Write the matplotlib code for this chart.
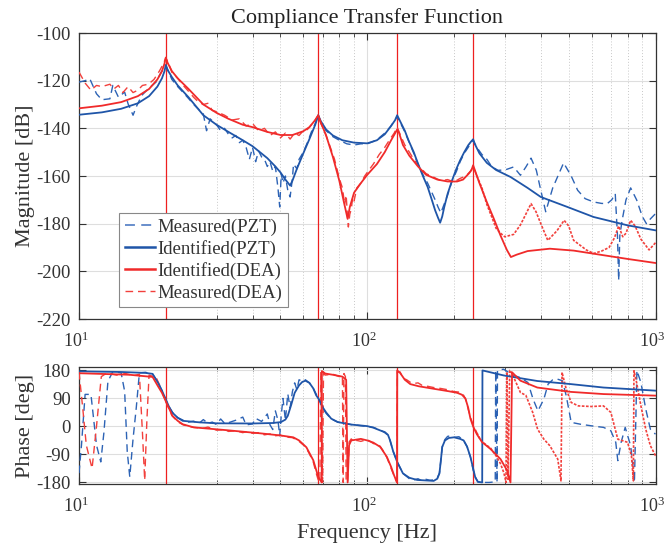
import math
import matplotlib
matplotlib.use("Agg")
import matplotlib.pyplot as plt
import matplotlib.transforms as mtransforms
from matplotlib.lines import Line2D
from matplotlib.ticker import LogLocator, FixedLocator, NullFormatter, FuncFormatter

plt.rcParams['font.family'] = ['Liberation Serif', 'DejaVu Serif']
plt.rcParams['mathtext.fontset'] = 'custom'
plt.rcParams['mathtext.rm'] = 'Liberation Serif'
plt.rcParams['mathtext.it'] = 'Liberation Serif:italic'
plt.rcParams['axes.unicode_minus'] = False

# ---------------- data ----------------
title_text = "Compliance Transfer Function"
mag_label = "Magnitude [dB]"
phase_label = "Phase [deg]"
freq_label = "Frequency [Hz]"
legend_labels = ["Measured(PZT)", "Identified(PZT)", "Identified(DEA)", "Measured(DEA)"]

mode_freqs = [20, 67.6, 127, 233]

# Identified (PZT) magnitude
f_id_pzt_mag = [10, 12, 14, 16, 17.5, 18.7, 19.4, 19.8, 20, 20.3,
                21, 22, 24, 27, 30, 33, 37, 40, 45, 48,
                50, 52, 54, 55, 57, 60, 63, 66, 67.6, 69,
                72, 76, 82, 90, 100, 108, 115, 121, 125, 127,
                130, 135, 139, 145, 150, 156, 162, 167, 172, 176,
                179, 182, 185, 190, 197, 203, 210, 217, 224, 229,
                233, 236, 245, 260, 280, 314, 360, 400, 495, 610,
                800, 1000]
m_id_pzt = [-134.3, -133.3, -131.8, -129.5, -126.5, -122.5, -119, -116, -113.4, -115.5,
            -118.5, -122, -127, -134.5, -138.5, -141.5, -145, -147.5, -152.5, -156,
            -158.5, -161.5, -164, -162, -157, -150.5, -144.5, -138.5, -134.5, -137,
            -140.5, -143, -145, -146, -146.3, -145, -142.5, -139, -136.5, -134.5,
            -137, -141, -145, -150, -154.8, -160, -164.6, -169.5, -174.4, -177.5,
            -179.6, -177, -173, -167.5, -161.8, -157.5, -153.4, -150, -147.1, -145.6,
            -144.6, -146.5, -150.5, -154.5, -157.5, -160.4, -165, -168.8, -173, -177.2,
            -180.7, -182.8]

# Identified (DEA) magnitude
f_id_dea_mag = [10, 12, 14, 16, 17.5, 18.7, 19.4, 19.8, 20, 20.3,
                21, 22, 24, 27, 30, 33, 37, 40, 45, 50,
                55, 60, 63, 66, 67.6, 69, 72, 76, 80, 83,
                85.5, 87, 90, 95, 100, 108, 115, 121, 125, 127,
                129, 133, 140, 150, 160, 175, 190, 205, 215, 225,
                230, 233, 237, 245, 260, 275, 290, 305, 315, 330,
                360, 430, 520, 610, 800, 1000]
m_id_dea = [-131.6, -130.5, -129, -126.5, -123.5, -119.5, -116, -112.8, -110.3, -112.5,
            -116, -119, -123.5, -130, -133.5, -136, -138.5, -139.5, -141.5, -142.8,
            -142.8, -141.2, -139.5, -136.5, -134.5, -137.5, -143, -152, -162, -171,
            -178, -173, -167, -163, -159.5, -155, -150, -145, -142, -140.5,
            -142, -147, -151.5, -156, -159.5, -161.5, -162.3, -162.3, -161.5, -159,
            -157.5, -155.5, -158, -163, -171, -178, -185, -191, -194, -193,
            -191.5, -190.5, -191.3, -192.6, -194.8, -196.5]

# Measured (PZT) magnitude
f_ms_pzt_mag = [10, 10.5, 10.9, 11.5, 12, 12.8, 13.1, 13.7, 14.4, 14.8,
                15.4, 15.8, 16.5, 17.4, 18.5, 19.3, 20, 20.5, 21, 22,
                23, 24, 25, 26, 27, 27.7, 28.5, 30, 31, 32,
                33, 34, 35, 36, 37, 38, 39, 40, 41, 42,
                43, 44, 45, 46, 47, 48, 49, 49.7, 50.3, 51,
                52, 53, 54, 55, 55.5, 57, 58, 60, 62, 64,
                66, 67.6, 69, 72, 76, 80, 85, 90, 95, 100,
                105, 110, 115, 120, 124, 127, 130, 135, 140, 145,
                150, 156, 162, 167, 172, 176, 180, 184, 190, 197,
                204, 210, 217, 224, 229, 233, 240, 250, 260, 270,
                284, 300, 322, 340, 356, 370, 386, 400, 416, 440,
                480, 510, 537, 570, 610, 650, 680, 705, 725, 738,
                745, 752, 766, 790, 820, 860, 900, 930, 960, 1000]
m_ms_pzt = [-120.6, -120, -119.2, -125.5, -128, -127.6, -122, -126.9, -124.8, -129.7,
            -134.5, -131, -126.2, -123.4, -120.6, -116.4, -113.6, -116.5, -119.5, -122.5,
            -125, -127.5, -130, -132, -134, -141, -136, -138.5, -141, -140,
            -142.5, -144, -143, -146, -145, -148, -153, -148, -154, -149.5,
            -152, -153, -156, -154, -158, -156, -165, -173, -159, -163,
            -160, -166, -168.8, -161, -155, -157, -153, -150, -146, -141.5,
            -138, -134.5, -137.5, -141, -143.5, -145, -146.5, -147, -146.5, -146.5,
            -145.5, -144, -142, -139.5, -137, -135, -137.5, -141.5, -146, -150.5,
            -155, -159.5, -163, -166.5, -170, -173, -175.5, -172.5, -168, -162,
            -158, -154, -150.5, -148, -146, -145, -148, -151, -153, -156,
            -157.6, -157.5, -156.2, -159.7, -156, -152.5, -157.6, -166, -175, -165,
            -154.5, -160, -166, -169.5, -170.9, -171.5, -171.6, -170, -167.4, -185,
            -203.8, -185, -178.6, -170, -165, -170, -177, -180, -178, -175.8]

# Measured (DEA) magnitude
f_ms_dea_mag = [10, 10.5, 11, 11.5, 12, 12.8, 13.2, 13.7, 14.2, 14.8,
                15.4, 16, 16.6, 17.4, 18.2, 19, 19.6, 20, 20.5, 21,
                22, 23, 24, 25, 26, 27, 28, 29, 30, 32,
                34, 36, 38, 40, 42, 44, 46, 48, 50, 52,
                54, 56, 58, 60, 62, 64, 66, 67.6, 69, 71,
                74, 77, 80, 82, 83.5, 84.5, 85.5, 86, 87, 88,
                89, 90, 92, 95, 98, 100, 105, 110, 115, 120,
                124, 127, 130, 135, 140, 145, 150, 160, 170, 180,
                190, 200, 210, 220, 228, 233, 240, 250, 260, 270,
                280, 290, 300, 322, 340, 355, 370, 385, 400, 423,
                455, 482, 500, 520, 575, 610, 650, 690, 720, 745,
                770, 790, 820, 850, 890, 950, 1000]
m_ms_dea = [-116.4, -121, -124, -122, -122.5, -121.5, -123.5, -122, -125, -122.5,
            -125, -124, -122, -121.5, -119.5, -116, -113, -110.5, -113, -116.5,
            -119, -122, -124.5, -127, -129, -130, -129.5, -132.5, -133, -134.5,
            -136.5, -136, -139, -138, -141, -140, -143, -141.5, -144, -142,
            -144.5, -142, -143, -141, -140.5, -138.5, -136.5, -134.5, -138, -141,
            -147, -153, -161, -165, -172, -168, -178, -181.4, -176, -174,
            -169, -170.5, -165, -163, -160, -158.5, -155, -151, -148, -144.5,
            -142, -139.5, -142.5, -147, -150, -153, -155.5, -159, -160.5, -162,
            -161.5, -162.5, -161, -160, -158, -156, -160, -165, -172, -177,
            -182, -184, -185.5, -184.5, -180.5, -176, -171.6, -175, -180, -187,
            -183, -178.6, -181, -187, -191, -192.5, -191.5, -190, -186, -181,
            -185.5, -184, -178.6, -181, -186.5, -191, -188]

# Identified (PZT) phase
f_id_pzt_ph = [10, 14, 17, 18, 18.8, 19.4, 20, 20.6, 21.1, 22,
               22.9, 26.3, 30, 40, 47, 50.2, 52, 53, 54.5, 56,
               58, 59.5, 61, 63, 65, 66.5, 68, 70, 72, 75,
               79, 88, 100, 105, 111, 115, 118, 120, 123, 127,
               133, 140, 149, 170, 175, 178, 180, 182, 186, 192,
               200, 210, 216, 222, 228, 233, 237, 242, 250.5, 251,
               297, 389, 509, 660, 1000]
p_id_pzt = [177, 175, 172, 169, 140, 115, 87, 60, 44, 28,
            18, 13, 10, 9.5, 11, 14, 22, 34, 70, 108,
            132, 143, 147, 140, 122, 100, 87, 62, 45, 25,
            14, 6, 1, -4, -13, -18, -27, -45, -80, -114,
            -151, -165, -172, -175, -168, -151, -110, -66, -45, -37,
            -35, -40, -45, -65, -98, -135, -164, -178, -180, 180,
            164, 146, 136, 125, 115]

# Identified (DEA) phase
f_id_dea_ph = [10, 15, 18, 18.8, 19.4, 20, 20.6, 21.1, 22, 22.9,
               25, 32.5, 42.4, 50, 55.4, 58, 61.5, 65, 67.6, 69.5,
               69.6, 71.5, 76, 82, 84.5, 85.5, 86.5, 88, 95, 100,
               105, 111, 117, 121, 124, 126.8, 127, 130, 135, 141,
               151, 170, 192, 205, 213, 219, 224, 228, 233, 240,
               250, 268, 290, 305, 314, 318, 340, 389, 509, 660,
               1000]
p_id_dea = [171, 166, 159, 129, 108, 81, 55, 34, 18, 7,
            -3, -12, -22, -29, -35, -45, -67, -109, -162, -180,
            178, 170, 166, 160, 150, -180, -60, -45, -40, -45,
            -52, -66, -98, -130, -158, -180, 180, 172, 150, 136,
            129, 121, 113, 108, 102, 90, 60, 25, 0, -25,
            -50, -73, -105, -140, -180, 174, 147, 125, 111, 104,
            99]

# Measured (PZT) phase
f_ms_pzt_ph = [10, 10.2, 10.5, 11, 11.5, 11.9, 12.2, 12.6, 13.1, 14,
               14.4, 14.7, 15, 15.4, 15.8, 16.2, 17, 18, 18.8, 19.4,
               20, 20.6, 21.1, 22, 23, 24, 25, 26, 27, 28,
               29, 30, 31, 32, 33, 35, 37, 38, 40, 41,
               43, 45, 46, 47, 48, 49, 49.7, 50.3, 51, 52,
               53, 54, 55, 56, 57, 58, 59.5, 61, 63, 65,
               67, 68.5, 70, 72, 75, 79, 88, 100, 105, 111,
               115, 118, 120, 123, 127, 133, 140, 145, 150, 155,
               160, 165, 170, 175, 178, 180, 182, 186, 190, 195,
               200, 208, 216, 222, 228, 233, 238, 242, 247, 265,
               278, 279, 282, 283, 290, 297, 320, 340, 361, 376,
               391, 410, 424, 440, 457, 475, 490, 510, 550, 620,
               660, 700, 728, 740, 760, 785, 820, 840, 845, 862,
               890, 925, 960, 1000]
p_ms_pzt = [-150, -60, 103, 103, -60, -114, -20, 145, 176, 172,
            113, -80, -162, -40, 60, 172, 174, 168, 142, 115,
            85, 62, 45, 28, 20, 14, 17, 9, 22, 10,
            14, 6, 24, 10, 12, 20, 30, 5, 8, 26,
            16, 40, 5, -10, 50, 20, -30, 35, 90, 20,
            105, 60, 112, 140, 118, 150, 145, 150, 140, 122,
            98, 82, 60, 42, 24, 14, 6, 0, -3, -12,
            -20, -28, -45, -80, -114, -151, -168, -172, -168, -175,
            -170, -173, -172, -165, -150, -110, -66, -42, -32, -30,
            -35, -33, -45, -65, -98, -140, -165, -178, -180, -180,
            -178, 180, -180, 180, 182, 184, 165, 157, 141, 88,
            50, 88, 136, 150, 152, 147, 99, 13, 7, 0,
            -3, -14, -51, -110, -51, -3, -62, -148, -180, 180,
            141, 56, -9, -25]

# Measured (DEA) phase
f_ms_dea_ph = [10, 10.3, 10.6, 11.1, 11.5, 11.95, 12.5, 13.5, 14.5, 15.5,
               16.2, 16.6, 16.9, 17.2, 17.5, 18.5, 19, 20, 21, 22,
               23, 24, 25, 27, 28, 30, 32, 33, 35, 37,
               38, 40, 42, 44, 46, 48, 50, 52, 55, 58,
               61, 63, 65, 66.5, 67.5, 68.5, 69, 70, 70.5, 71.5,
               76, 80, 82, 82.5, 83, 84, 84.5, 85.5, 86.5, 88,
               90, 92, 95, 100, 105, 110, 113, 117, 121, 124,
               126.8, 127.2, 130, 133, 137, 141, 145, 150, 155, 160,
               170, 180, 190, 200, 210, 216, 220, 224, 228, 233,
               240, 246, 255, 268, 280, 290, 298, 303, 305, 308,
               312, 314, 325, 340, 355, 375, 390, 410, 430, 458,
               470, 474, 490, 510, 540, 600, 660, 700, 740, 800,
               825, 838, 842, 860, 890, 925, 960, 1000]
p_ms_dea = [175, 60, -60, -135, 0, 160, 172, 165, 170, 163,
            168, -20, -173, 20, 165, 158, 135, 80, 35, 15,
            5, 0, -3, -6, -2, -12, -10, -16, -14, -20,
            -17, -22, -20, -27, -24, -30, -28, -34, -36, -48,
            -65, -88, -115, -150, -170, -180, 175, -180, 170, 165,
            168, 160, 165, -180, 170, 160, -180, -178, -50, -40,
            -50, -45, -48, -42, -55, -60, -75, -100, -135, -160,
            -180, 175, 175, 155, 150, 142, 138, 140, 132, 130,
            125, 122, 118, 112, 110, 100, 85, 55, 30, 5,
            -20, -40, -55, -70, -95, -120, -150, -180, 175, -170,
            180, 179, 150, 109, 100, 45, -9, -41, -62, -105,
            -175, 174, 120, 77, 66, 64, 66, 45, -41, -51,
            -94, -175, 179, 141, 66, -9, -62, -94]

# ---------------- styling ----------------
c_blue = '#1f55a8'
c_blue_d = '#2d63b5'
c_red = '#f02a2a'
c_red_d = '#f2403c'
c_text = '#333333'
dash = (0, (5.5, 3.5))
fuzz = (0, (1.6, 0.9))
split_f = 240  # above this the DEA measurement is rendered as a dense, fuzzy trace

W, H = 667, 552
fig = plt.figure(figsize=(W / 100, H / 100), dpi=100)

def fbox(l, t, r, b):
    return [l / W, 1 - b / H, (r - l) / W, (b - t) / H]

ax1 = fig.add_axes(fbox(79, 33, 655.5, 319))
ax2 = fig.add_axes(fbox(79, 367, 655.5, 484))

def style(ax):
    ax.set_xscale('log')
    ax.set_xlim(10, 1000)
    ax.xaxis.set_major_locator(LogLocator(base=10, numticks=10))
    ax.xaxis.set_minor_locator(LogLocator(base=10, subs=range(2, 10), numticks=10))
    ax.xaxis.set_minor_formatter(NullFormatter())
    ax.xaxis.set_major_formatter(FuncFormatter(
        lambda v, p: r'$10^{%d}$' % round(math.log10(v))))
    ax.grid(True, which='major', color='#dedede', lw=0.8, ls='-')
    ax.grid(True, which='minor', axis='x', color='#c8c8c8', lw=0.7, ls=(0, (1, 2)))
    ax.set_axisbelow(True)
    ax.tick_params(which='both', direction='in', top=True, right=True,
                   colors='#333333', labelcolor=c_text, labelsize=13.5)
    ax.tick_params(axis='x', which='major', pad=9, labelsize=13)
    ax.tick_params(axis='y', which='major', pad=6)
    ax.tick_params(which='major', length=5, width=0.8)
    ax.tick_params(which='minor', length=3, width=0.6)
    for s in ax.spines.values():
        s.set_color('#333333')
        s.set_linewidth(0.9)
    for f in mode_freqs:
        ax.axvline(f, color='#ee2020', lw=0.9, zorder=1.5)

style(ax1)
style(ax2)

def split_plot(ax, f, v, color):
    lo = [(a, b) for a, b in zip(f, v) if a <= split_f]
    hi = [(a, b) for a, b in zip(f, v) if a >= split_f]
    ax.plot([p[0] for p in lo], [p[1] for p in lo], color=color, lw=1.0, ls=dash, zorder=3)
    ax.plot([p[0] for p in hi], [p[1] for p in hi], color=color, lw=1.2, ls=fuzz, zorder=3)

# magnitude
ax1.plot(f_ms_pzt_mag, m_ms_pzt, color=c_blue_d, lw=1.0, ls=dash, zorder=3)
split_plot(ax1, f_ms_dea_mag, m_ms_dea, c_red_d)
ax1.plot(f_id_pzt_mag, m_id_pzt, color=c_blue, lw=1.3, zorder=4)
ax1.plot(f_id_dea_mag, m_id_dea, color=c_red, lw=1.3, zorder=4)
ax1.set_ylim(-220, -100)
ax1.yaxis.set_major_locator(FixedLocator(list(range(-220, -99, 20))))
ax1.set_title(title_text, fontsize=16, color='#222222', pad=7)
ax1.set_ylabel(mag_label, fontsize=16, color=c_text)
ax1.yaxis.set_label_coords(-0.077, 0.5)

# phase
ax2.plot(f_ms_pzt_ph, p_ms_pzt, color=c_blue_d, lw=1.0, ls=dash, zorder=3)
split_plot(ax2, f_ms_dea_ph, p_ms_dea, c_red_d)
ax2.plot(f_id_pzt_ph, p_id_pzt, color=c_blue, lw=1.3, zorder=4)
ax2.plot(f_id_dea_ph, p_id_dea, color=c_red, lw=1.3, zorder=4)
ax2.set_ylim(-185, 191)
ax2.yaxis.set_major_locator(FixedLocator([-180, -90, 0, 90, 180]))
ax2.set_ylabel(phase_label, fontsize=16, color=c_text)
ax2.yaxis.set_label_coords(-0.077, 0.5)
ax2.set_xlabel(freq_label, fontsize=16, color=c_text, labelpad=6)

# nudge x tick labels slightly left so the last one stays inside the figure
shift = mtransforms.ScaledTranslation(-3 / 100, 0, fig.dpi_scale_trans)
for ax in (ax1, ax2):
    for lbl in ax.get_xticklabels():
        lbl.set_transform(lbl.get_transform() + shift)

handles = [
    Line2D([], [], color='#5d86c8', lw=1.3, ls=dash),
    Line2D([], [], color=c_blue, lw=1.8),
    Line2D([], [], color=c_red, lw=1.8),
    Line2D([], [], color=c_red_d, lw=1.0, ls=dash),
]
leg = ax1.legend(handles, legend_labels, loc='upper left',
                 bbox_to_anchor=((119 - 79) / 576.5, (319 - 213) / 286),
                 fontsize=13.5, frameon=True, fancybox=False, framealpha=1,
                 edgecolor='#888888', borderpad=0.3, labelspacing=0.22,
                 handlelength=1.6, handletextpad=0.15, borderaxespad=0)
leg.get_frame().set_linewidth(0.8)
for t in leg.get_texts():
    t.set_color(c_text)

fig.savefig('out.png', dpi=100)
